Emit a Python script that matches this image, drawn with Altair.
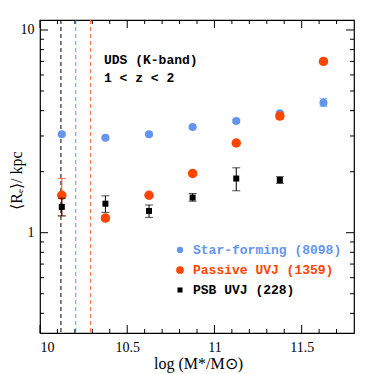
import altair as alt
import pandas as pd

# ---- data ----
mass = [10.125, 10.375, 10.625, 10.875, 11.125, 11.375, 11.625]

sf_re = [3.06, 2.94, 3.06, 3.32, 3.56, 3.88, 4.38]
sf_lo = [3.01, 2.90, 3.01, 3.28, 3.51, 3.82, 4.20]
sf_hi = [3.11, 2.98, 3.11, 3.36, 3.61, 3.94, 4.60]

pas_re = [1.53, 1.18, 1.53, 1.96, 2.77, 3.76, 7.0]
pas_lo = [1.21, 1.15, 1.50, 1.92, 2.72, 3.64, 6.90]
pas_hi = [1.85, 1.21, 1.56, 2.00, 2.82, 3.88, 7.10]

psb_mass = [10.125, 10.375, 10.625, 10.875, 11.125, 11.375]
psb_re = [1.34, 1.39, 1.28, 1.49, 1.85, 1.82]
psb_lo = [1.21, 1.26, 1.19, 1.43, 1.61, 1.75]
psb_hi = [1.48, 1.52, 1.37, 1.56, 2.09, 1.89]

series_names = ["Star-forming", "Passive UVJ", "PSB UVJ"]
series_colors = ["#6495ED", "#FF4500", "#000000"]
legend_labels = ["Star-forming (8098)", "Passive UVJ (1359)", "PSB UVJ (228)"]

limits = [10.12, 10.205, 10.29]
limit_names = ["PSB UVJ", "Star-forming", "Passive UVJ"]
limit_colors = ["#000000", "#6495ED", "#FF6A3D"]

x_major = [10.0, 10.5, 11.0, 11.5]
x_minor = [10.1, 10.2, 10.3, 10.4, 10.6, 10.7, 10.8, 10.9, 11.1, 11.2, 11.3, 11.4, 11.6, 11.7]
y_major = [1, 10]
y_minor = [0.4, 0.5, 0.6, 0.7, 0.8, 0.9, 2, 3, 4, 5, 6, 7, 8, 9]

annot_lines = ["UDS (K-band)", "1 < z < 2"]

# ---- tables ----
rows = []
for name, xs, ys, lo, hi in [
    (series_names[0], mass, sf_re, sf_lo, sf_hi),
    (series_names[1], mass, pas_re, pas_lo, pas_hi),
    (series_names[2], psb_mass, psb_re, psb_lo, psb_hi),
]:
    for a, b, c, d in zip(xs, ys, lo, hi):
        rows.append({"mass": a, "re": b, "lo": c, "hi": d, "series": name})
df = pd.DataFrame(rows)
lim_df = pd.DataFrame({"x": limits, "series": limit_names})

W, H = 314, 313
xscale = alt.Scale(domain=[10, 11.8], nice=False, zero=False)
yscale = alt.Scale(type="log", domain=[0.32, 11.2], nice=False)
XTITLE = "log (M*/M\u2299)"
YTITLE = "\u27e8R\u2091\u27e9/ kpc"
xaxis = alt.Axis(values=x_major, format="~g", labelPadding=7,
                 titleX=W / 2 + 1, titleY=35, titleBaseline="alphabetic")
yaxis = alt.Axis(values=y_major, format="~g", labelPadding=6,
                 titleX=-19, titleY=160, titleBaseline="alphabetic")


def X(field):
    return alt.X(field, type="quantitative", scale=xscale, axis=xaxis, title=XTITLE)


def Y(field):
    return alt.Y(field, type="quantitative", scale=yscale, axis=yaxis, title=YTITLE)


base = alt.Chart(df)


def layer_series(name, shape, size):
    d = base.transform_filter(alt.datum.series == name)
    col = series_colors[series_names.index(name)]
    bar = d.mark_rule(color=col, strokeWidth=1).encode(x=X("mass"), y=Y("lo"), y2="hi:Q")
    cap_lo = d.mark_tick(color=col, orient="horizontal", size=8, thickness=1).encode(
        x=X("mass"), y=Y("lo"))
    cap_hi = d.mark_tick(color=col, orient="horizontal", size=8, thickness=1).encode(
        x=X("mass"), y=Y("hi"))
    pts = d.mark_point(shape=shape, filled=True, opacity=1, size=size, color=col).encode(
        x=X("mass"), y=Y("re"))
    return [bar, cap_lo, cap_hi, pts]


lim_layer = alt.Chart(lim_df).mark_rule(strokeDash=[4, 3], strokeWidth=1).encode(
    x=X("x"),
    color=alt.Color("series:N", scale=alt.Scale(domain=limit_names, range=limit_colors), legend=None),
)


# inward ticks on all four sides
def tick_layers(vals, length, axis):
    t = alt.Chart(pd.DataFrame({"v": vals}))
    if axis == "x":
        return [
            t.mark_rule(color="black").encode(x=X("v"), y=alt.value(H), y2=alt.value(H - length)),
            t.mark_rule(color="black").encode(x=X("v"), y=alt.value(0), y2=alt.value(length)),
        ]
    return [
        t.mark_rule(color="black").encode(y=Y("v"), x=alt.value(0), x2=alt.value(length)),
        t.mark_rule(color="black").encode(y=Y("v"), x=alt.value(W), x2=alt.value(W - length)),
    ]


ticks = (tick_layers(x_major, 8, "x") + tick_layers(x_minor, 4, "x")
         + tick_layers(y_major, 8, "y") + tick_layers(y_minor, 4, "y"))

mono = "Liberation Mono"
annot = [
    alt.Chart(pd.DataFrame({"t": [annot_lines[i]]})).mark_text(
        align="left", baseline="middle", font=mono, fontSize=13, fontWeight="bold", color="black"
    ).encode(text="t:N", x=alt.value(64), y=alt.value(40 + 18 * i))
    for i in range(2)
]

legend_shapes = ["circle", "circle", "square"]
legend_sizes = [40, 60, 26]
legend = []
for i in range(3):
    ld = alt.Chart(pd.DataFrame({"t": [legend_labels[i]]}))
    legend.append(ld.mark_point(shape=legend_shapes[i], filled=True, opacity=1,
                                size=legend_sizes[i], color=series_colors[i]).encode(
        x=alt.value(140), y=alt.value(230 + 20 * i)))
    legend.append(ld.mark_text(align="left", baseline="middle", font=mono, fontSize=13,
                               fontWeight="bold", color=series_colors[i]).encode(
        text="t:N", x=alt.value(153), y=alt.value(230 + 20 * i)))

layers = ([lim_layer] + ticks
          + layer_series("Star-forming", "circle", 64)
          + layer_series("Passive UVJ", "circle", 90)
          + layer_series("PSB UVJ", "square", 36)
          + annot + legend)

chart = alt.layer(*layers).properties(
    width=W, height=H,
    padding={"left": 32, "top": 12, "right": 12, "bottom": 41},
    autosize=alt.AutoSizeParams(type="none"),
).configure_view(stroke="black", strokeWidth=1.2).configure_axis(
    domain=False, ticks=False, grid=False,
    labelFont="Liberation Serif", labelFontSize=14, labelColor="black",
    titleFont="Liberation Serif", titleFontSize=16, titleFontWeight="normal", titleColor="black",
)

chart.save("out.html", embed_options={"renderer": "svg", "actions": False})
